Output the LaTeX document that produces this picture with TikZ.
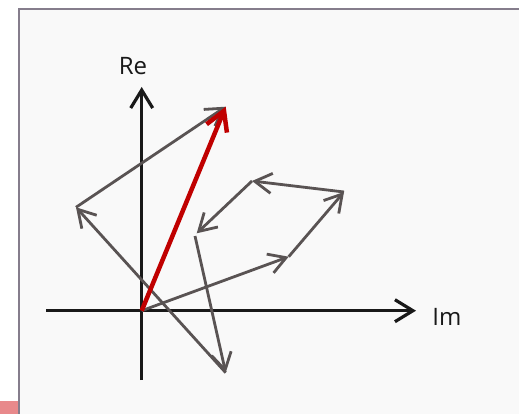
\documentclass[tikz,border=0pt]{standalone}
\usepackage{fontspec}
\setmainfont{Open Sans}
\usetikzlibrary{arrows.meta}
\definecolor{framec}{HTML}{857D8C}
\definecolor{bgc}{HTML}{F9F9F9}
\definecolor{greyv}{HTML}{595353}
\definecolor{redv}{HTML}{C00000}
\definecolor{pinkc}{HTML}{E8898B}
\tikzset{
  axis/.style={line width=3.2pt, black!90, -{Straight Barb[length=18pt,width=22pt,line width=3.2pt]}},
  vec/.style={line width=2.8pt, greyv, -{Straight Barb[length=17pt,width=20pt,line width=2.8pt]}},
  redvec/.style={line width=4.5pt, redv, -{Straight Barb[length=19pt,width=22pt,line width=4.5pt]}},
  lbl/.style={font=\fontsize{24}{27}\selectfont, text=black!90, inner sep=0pt}
}
\begin{document}
\begin{tikzpicture}[x=1pt,y=-1pt]
\useasboundingbox (0,0) rectangle (519,414);
\fill[white] (0,0) rectangle (519,414);
\fill[pinkc] (0,401) rectangle (18,414);
\fill[bgc] (19,9) rectangle (519,414);
\draw[framec, line width=2pt] (19,414) -- (19,9) -- (519,9);
% axes
\coordinate (O) at (141.7,310.7);
\coordinate (ybot) at (141.7,380);
\coordinate (ytop) at (141.7,87);
\coordinate (xl) at (46,310.7);
\coordinate (xr) at (416,310.7);
\draw[axis] (ybot) -- (ytop);
\draw[axis] (xl) -- (xr);
\node[lbl] (re) at (133,66) {Re};
\node[lbl] (im) at (447,317) {Im};
% chain points
\coordinate (A) at (288.7,256.7);
\coordinate (B) at (344,192);
\coordinate (C) at (252,181);
\coordinate (D) at (196.7,233.3);
\coordinate (D2) at (195,236);
\coordinate (E) at (225.7,372.7);
\coordinate (F) at (76,207.3);
\coordinate (G) at (225.7,106.7);
\draw[vec] (O) -- (A);
\draw[vec] (A) -- (B);
\draw[vec] (B) -- (C);
\draw[vec] (C) -- (D);
\draw[vec] (D2) -- (E);
\draw[vec] (E) -- (F);
\draw[vec] (F) -- (G);
\draw[redvec] (O) -- (G);
\end{tikzpicture}
\end{document}
